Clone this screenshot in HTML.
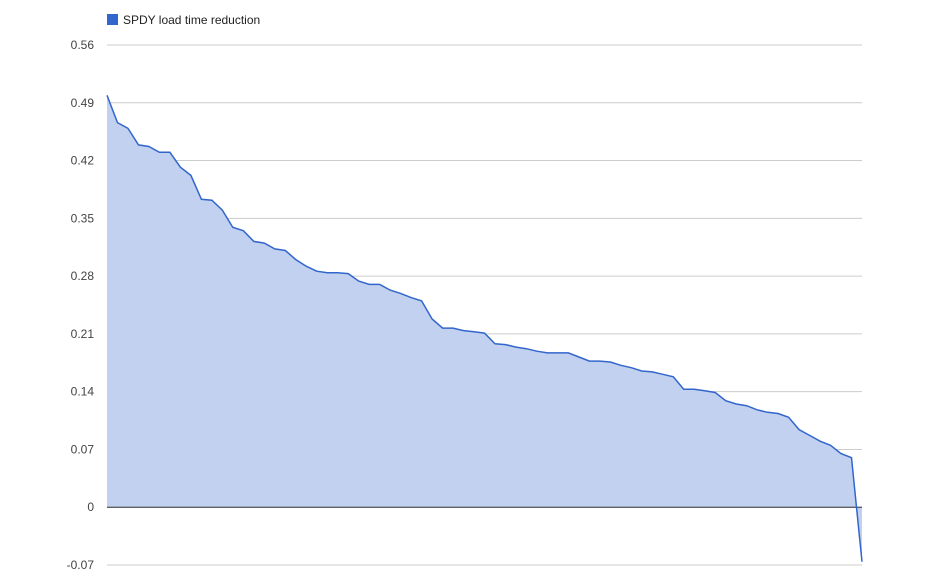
<!DOCTYPE html>
<html><head><meta charset="utf-8"><style>
html,body{margin:0;padding:0;background:#fff;}
svg{display:block;font-family:"Liberation Sans",Arial,sans-serif;}
</style></head><body>
<svg id="chart" width="939" height="588">
<g id="legend">
<rect x="107" y="14" width="11" height="11" fill="#3366cc"/>
<text x="123" y="24" font-size="12" fill="#222">SPDY load time reduction</text>
</g>
<g id="grid"></g><g id="area"></g><g id="labels"></g>
</svg>
<script>
const yTicks=[-0.07,0,0.07,0.14,0.21,0.28,0.35,0.42,0.49,0.56];
const yTickLabels=["-0.07","0","0.07","0.14","0.21","0.28","0.35","0.42","0.49","0.56"];
const values=[0.499,0.466,0.459,0.439,0.437,0.430,0.430,0.412,0.402,0.373,0.372,0.360,0.339,0.335,0.322,0.320,0.313,0.311,0.300,0.292,0.286,0.284,0.284,0.283,0.274,0.270,0.270,0.263,0.259,0.254,0.250,0.228,0.217,0.217,0.214,0.2125,0.211,0.198,0.197,0.194,0.192,0.189,0.187,0.187,0.187,0.182,0.177,0.177,0.176,0.172,0.169,0.165,0.164,0.161,0.158,0.143,0.143,0.141,0.139,0.129,0.125,0.123,0.118,0.115,0.1135,0.109,0.094,0.087,0.080,0.075,0.065,0.060,-0.066];
const NS='http://www.w3.org/2000/svg';
const x0=107,x1=862,yTop=45,yBot=565,vMin=-0.07,vMax=0.56;
function y(v){return yBot-(v-vMin)/(vMax-vMin)*(yBot-yTop);}
function x(i){return x0+i*(x1-x0)/(values.length-1);}
const grid=document.getElementById('grid'),labels=document.getElementById('labels'),area=document.getElementById('area');
yTicks.forEach((t,k)=>{
 const l=document.createElementNS(NS,'line');
 l.setAttribute('x1',x0);l.setAttribute('x2',x1);l.setAttribute('y1',y(t));l.setAttribute('y2',y(t));
 l.setAttribute('stroke','#cccccc');l.setAttribute('stroke-width','1');
 
 
 grid.appendChild(l);
 const tx=document.createElementNS(NS,'text');
 tx.setAttribute('x',94);tx.setAttribute('y',y(t)+4);tx.setAttribute('text-anchor','end');
 tx.setAttribute('font-size','12');tx.setAttribute('fill','#444');
 tx.textContent=yTickLabels[k];
 
 
 labels.appendChild(tx);
});
let pts=values.map((v,i)=>x(i).toFixed(1)+','+y(v).toFixed(1));
const poly=document.createElementNS(NS,'polygon');
poly.setAttribute('points',x0+','+y(0)+' '+pts.join(' ')+' '+x1+','+y(0));
poly.setAttribute('fill','#c1d1ef');


area.appendChild(poly);
const zl=document.createElementNS(NS,'line');
zl.setAttribute('x1',x0);zl.setAttribute('x2',x1);zl.setAttribute('y1',y(0));zl.setAttribute('y2',y(0));
zl.setAttribute('stroke','#333');zl.setAttribute('stroke-width','1');


area.appendChild(zl);
const pl=document.createElementNS(NS,'polyline');
pl.setAttribute('points',pts.join(' '));
pl.setAttribute('fill','none');pl.setAttribute('stroke','#3366cc');pl.setAttribute('stroke-width','1.5');


area.appendChild(pl);
</script>
</body></html>
